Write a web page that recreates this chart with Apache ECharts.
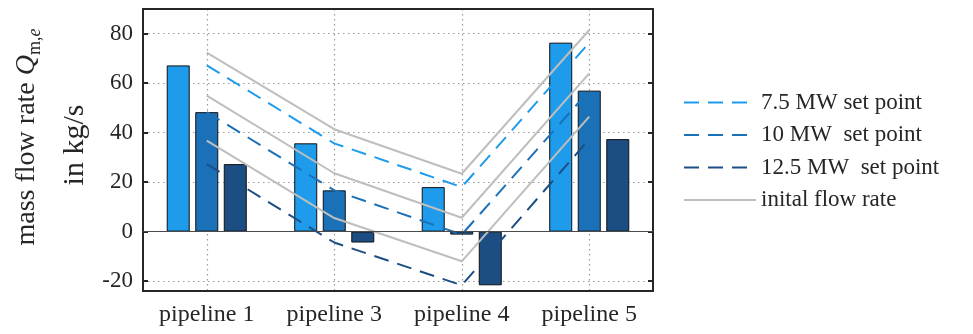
<!DOCTYPE html>
<html>
<head>
<meta charset="utf-8">
<script src="https://cdn.jsdelivr.net/npm/echarts@6/dist/echarts.min.js"></script>
<style>
html,body{margin:0;padding:0;background:#fff;}
#chart{width:973px;height:334px;}
</style>
</head>
<body>
<div id="chart"></div>
<script>
// ---- data ----
const categories = ['pipeline 1', 'pipeline 3', 'pipeline 4', 'pipeline 5'];
const set75 = [67.2, 35.7, 18.0, 76.4];
const set10 = [48.3, 16.7, -1.2, 57.0];
const set125 = [27.3, -4.4, -21.7, 37.4];
const initialA = [72.4, 41.4, 23.4, 81.5];
const initialB = [55.0, 23.6, 5.6, 64.0];
const initialC = [36.8, 5.5, -12.0, 46.5];
const yMin = -24;
const yMax = 90;
const yTickStep = 20;
const legendNames = ['7.5 MW set point', '10 MW  set point', '12.5 MW  set point', 'inital flow rate'];

// ---- styles ----
const FONT = '"Liberation Serif", "Times New Roman", serif';
const C1 = '#1E9BEB', C2 = '#1B71B8', C3 = '#1C4E84', GRAY = '#BEBEBE', INK = '#262626';
const DASH = [15, 9];

const chart = echarts.init(document.getElementById('chart'), null, {renderer: 'canvas'});

function barSeries(name, data, color, extra) {
  return Object.assign({
    name: name, type: 'bar', data: data, barWidth: 23, barGap: '24%',
    xAxisIndex: 0, yAxisIndex: 0,
    itemStyle: {color: color, borderColor: '#111', borderWidth: 1},
    z: 2
  }, extra || {});
}
function lineSeries(name, data, color, dashed) {
  return {
    name: name, type: 'line', data: data, symbol: 'none',
    xAxisIndex: 0, yAxisIndex: 0,
    lineStyle: {color: color, width: 2, type: dashed ? DASH : 'solid'},
    itemStyle: {color: color},
    z: 4, silent: true
  };
}

const option = {
  animation: false,
  backgroundColor: '#fff',
  grid: {left: 143, right: 320, top: 9, bottom: 43, containLabel: false},
  legend: {
    data: legendNames,
    orient: 'vertical', left: 683, top: 91, padding: 0,
    itemWidth: 72, itemHeight: 14, itemGap: 9.5,
    itemStyle: {opacity: 0, borderWidth: 0},
    textStyle: {fontFamily: FONT, fontSize: 23, color: INK},
    selectedMode: false
  },
  xAxis: [{
    type: 'category', data: categories, position: 'bottom',
    axisLine: {onZero: false, lineStyle: {color: INK, width: 2}},
    axisTick: {inside: true, alignWithLabel: true, interval: 0, length: 5, lineStyle: {color: INK, width: 2}},
    axisLabel: {fontFamily: FONT, fontSize: 24, color: INK, margin: 12, interval: 0},
    splitLine: {show: true, alignWithLabel: true, interval: 0, lineStyle: {color: '#9a9a9a', width: 1.2, type: [1.5, 3.5]}}
  }, {
    type: 'category', data: categories, position: 'top',
    axisLine: {onZero: false, lineStyle: {color: INK, width: 2}},
    axisTick: {inside: true, alignWithLabel: true, interval: 0, length: 5, lineStyle: {color: INK, width: 2}},
    axisLabel: {show: false}, splitLine: {show: false}
  }],
  yAxis: [{
    type: 'value', min: yMin, max: yMax, position: 'left',
    axisLine: {show: true, lineStyle: {color: INK, width: 2}},
    axisTick: {show: true, inside: true, length: 5, lineStyle: {color: INK, width: 2}},
    axisLabel: {
      fontFamily: FONT, fontSize: 23, color: INK, margin: 10,
      formatter: function (v) { return (Math.abs(v % yTickStep) < 1e-9) ? String(v) : ''; }
    },
    splitLine: {show: true, lineStyle: {color: '#9a9a9a', width: 1.2, type: [1.5, 3.5]}}
  }, {
    type: 'value', min: yMin, max: yMax, position: 'right',
    axisLine: {show: true, lineStyle: {color: INK, width: 2}},
    axisTick: {show: true, inside: true, length: 5, lineStyle: {color: INK, width: 2}},
    axisLabel: {show: false}, splitLine: {show: false}
  }],
  series: [
    barSeries('bars 7.5 MW', set75, C1, {
      markLine: {
        silent: true, symbol: ['none', 'none'], label: {show: false},
        lineStyle: {color: '#4a4a4a', width: 1, type: 'solid'},
        data: [{yAxis: 0}]
      }
    }),
    barSeries('bars 10 MW', set10, C2),
    barSeries('bars 12.5 MW', set125, C3),
    lineSeries(legendNames[3], initialA, GRAY, false),
    lineSeries(legendNames[3], initialB, GRAY, false),
    lineSeries(legendNames[3], initialC, GRAY, false),
    lineSeries(legendNames[0], set75, C1, true),
    lineSeries(legendNames[1], set10, C2, true),
    lineSeries(legendNames[2], set125, C3, true)
  ],
  graphic: [{
    type: 'text', x: 27, y: 137, rotation: Math.PI / 2,
    style: {
      text: '{t|mass flow rate }{q|Q}{s|m,}{se|e}',
      align: 'center', verticalAlign: 'middle',
      fill: INK,
      rich: {
        t: {fontFamily: FONT, fontSize: 28, fill: INK},
        q: {fontFamily: FONT, fontSize: 28, fontStyle: 'italic', fill: INK},
        s: {fontFamily: FONT, fontSize: 18, fill: INK, padding: [16, 0, 0, 0]},
        se: {fontFamily: FONT, fontSize: 18, fontStyle: 'italic', fill: INK, padding: [16, 0, 0, 0]}
      }
    }
  }, {
    type: 'text', x: 75, y: 145, rotation: Math.PI / 2,
    style: {
      text: 'in kg/s', align: 'center', verticalAlign: 'middle',
      fontFamily: FONT, fontSize: 30, fill: INK
    }
  }]
};
chart.setOption(option);
</script>
</body>
</html>
